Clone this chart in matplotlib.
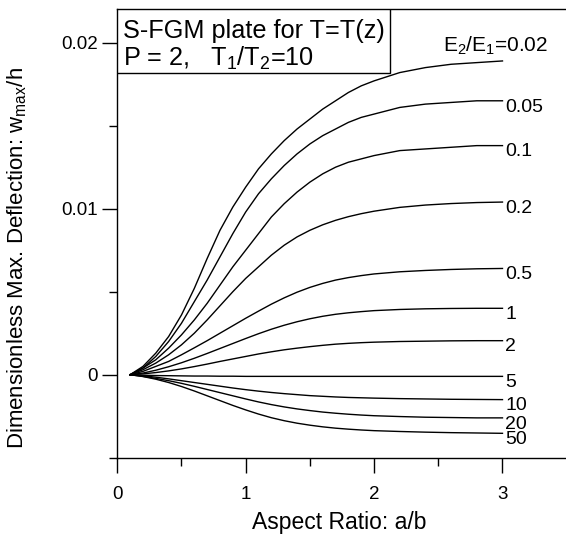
import matplotlib
matplotlib.use("Agg")
import matplotlib.pyplot as plt
from matplotlib.patches import Rectangle

plt.rcParams['font.family'] = ['Liberation Sans', 'DejaVu Sans']
plt.rcParams['mathtext.default'] = 'regular'

# aspect ratio a/b
aspect = [0.1, 0.2, 0.3, 0.4, 0.5, 0.6, 0.7, 0.8, 0.9, 1.0,
          1.1, 1.2, 1.3, 1.4, 1.5, 1.6, 1.7, 1.8, 1.9, 2.0,
          2.2, 2.4, 2.6, 2.8, 3.0]

# E2/E1 ratios and the matching deflection curves (w_max/h)
ratios = ['0.02', '0.05', '0.1', '0.2', '0.5', '1', '2', '5', '10', '20', '50']

w_002 = [0, 0.0005, 0.0013, 0.0023, 0.0036, 0.0052, 0.0070, 0.0087, 0.0101, 0.0113,
         0.0124, 0.0133, 0.0141, 0.0148, 0.0154, 0.0160, 0.0165, 0.0170, 0.0174, 0.0177,
         0.0182, 0.0185, 0.0187, 0.0188, 0.0189]
w_005 = [0, 0.0004, 0.0011, 0.0020, 0.0031, 0.0044, 0.0057, 0.0071, 0.0085, 0.0098,
         0.0109, 0.0118, 0.0126, 0.0133, 0.0139, 0.0144, 0.0148, 0.0152, 0.0155, 0.0157,
         0.0161, 0.0163, 0.0164, 0.0165, 0.0165]
w_01 = [0, 0.0004, 0.0009, 0.0016, 0.0024, 0.0033, 0.0043, 0.0054, 0.0065, 0.0075,
        0.0085, 0.0095, 0.0103, 0.0110, 0.0116, 0.0121, 0.0125, 0.0128, 0.0130, 0.0132,
        0.0135, 0.0136, 0.0137, 0.0138, 0.0138]
w_02 = [0, 0.0003, 0.0007, 0.0012, 0.0018, 0.0025, 0.0033, 0.00415, 0.0050, 0.0058,
        0.0065, 0.0072, 0.0078, 0.0083, 0.0087, 0.00903, 0.0093, 0.00952, 0.0097, 0.00985,
        0.01008, 0.01022, 0.01031, 0.01037, 0.0104]
w_05 = [0, 0.0002, 0.0005, 0.0008, 0.0012, 0.00162, 0.00205, 0.0025, 0.00295, 0.0034,
        0.00383, 0.00425, 0.00463, 0.00497, 0.00526, 0.0055, 0.0057, 0.00585, 0.00597, 0.00607,
        0.0062, 0.00628, 0.00634, 0.00638, 0.0064]
w_1 = [0, 0.0001, 0.00027, 0.00048, 0.00072, 0.00099, 0.00128, 0.00158, 0.00188, 0.00218,
       0.00247, 0.00274, 0.00298, 0.00319, 0.00337, 0.00352, 0.00364, 0.00373, 0.0038, 0.00386,
       0.00393, 0.00397, 0.00399, 0.004, 0.004]
w_2 = [0, 0.00005, 0.00013, 0.00023, 0.00035, 0.00049, 0.00064, 0.0008, 0.00095, 0.0011,
       0.00125, 0.00138, 0.0015, 0.0016, 0.00169, 0.00177, 0.00184, 0.00189, 0.00193, 0.00196,
       0.002, 0.00202, 0.00204, 0.00205, 0.00205]
w_5 = [0, -0.00003, -0.00005, -0.00006, -0.00007, -0.00008, -0.00008, -0.00009, -0.00009, -0.0001,
       -0.0001, -0.0001, -0.0001, -0.0001, -0.0001, -0.0001, -0.0001, -0.0001, -0.0001, -0.0001,
       -0.0001, -0.0001, -0.0001, -0.0001, -0.0001]
w_10 = [0, -0.00006, -0.00015, -0.00025, -0.00036, -0.00047, -0.00058, -0.00069, -0.0008, -0.0009,
        -0.00099, -0.00107, -0.00114, -0.0012, -0.00126, -0.0013, -0.00134, -0.00137, -0.00139, -0.00141,
        -0.00144, -0.00146, -0.00148, -0.00149, -0.0015]
w_20 = [0, -0.0001, -0.00022, -0.00036, -0.00052, -0.0007, -0.00089, -0.00108, -0.00127, -0.00146,
        -0.00164, -0.0018, -0.00194, -0.00206, -0.00216, -0.00225, -0.00232, -0.00238, -0.00243, -0.00247,
        -0.00252, -0.00256, -0.00258, -0.0026, -0.0026]
w_50 = [0, -0.00011, -0.00027, -0.00047, -0.00071, -0.00098, -0.00127, -0.00156, -0.00185, -0.00212,
        -0.00237, -0.00259, -0.00277, -0.00292, -0.00304, -0.00314, -0.00322, -0.00328, -0.00333, -0.00337,
        -0.00342, -0.00346, -0.00349, -0.00351, -0.00353]

curves = [w_002, w_005, w_01, w_02, w_05, w_1, w_2, w_5, w_10, w_20, w_50]

fig = plt.figure(figsize=(5.66, 5.42), dpi=100)
ax = fig.add_axes([0.2072, 0.1555, 0.794, 0.827])

for r, w in zip(ratios, curves):
    ax.plot(aspect, w, color='black', lw=1.0)
    if r == '0.02':
        ax.annotate('E$_2$/E$_1$=0.02', (aspect[-1], w[-1]), xytext=(-5, 11),
                    textcoords='offset points', ha='center', va='center', fontsize=15)
    else:
        ax.annotate(r, (aspect[-1], w[-1]), xytext=(2, -4.5),
                    textcoords='offset points', ha='left', va='center', fontsize=14)

ax.set_xlim(0, 3.5)
ax.set_ylim(-0.005, 0.022)
ax.set_xticks([0, 1, 2, 3])
ax.set_xticks([0.5, 1.5, 2.5], minor=True)
ax.set_yticks([0, 0.01, 0.02])
ax.set_yticklabels(['0', '0.01', '0.02'])
ax.set_yticks([-0.005, 0.005, 0.015], minor=True)
ax.tick_params(which='major', direction='out', length=10.5, width=1.0, labelsize=13.5)
ax.tick_params(which='minor', direction='out', length=5.5, width=1.0)
ax.tick_params(axis='x', which='major', pad=10)
ax.tick_params(axis='y', which='major', pad=3.5)
ax.spines['right'].set_visible(False)
for s in ['left', 'bottom', 'top']:
    ax.spines[s].set_linewidth(1.0)

ax.set_xlabel('Aspect Ratio: a/b', fontsize=16.5)
ax.set_ylabel('Dimensionless Max. Deflection: w$_{max}$/h', fontsize=16)
ax.xaxis.set_label_coords(0.495, -0.118)
ax.yaxis.set_label_coords(-0.196, 0.4455)

# title box in the top left corner
ax.add_patch(Rectangle((0, 0.858), 0.606, 0.142, transform=ax.transAxes,
                       facecolor='white', edgecolor='black', lw=1.0, zorder=3))
ax.text(0.013, 0.952, 'S-FGM plate for T=T(z)', transform=ax.transAxes,
        fontsize=18.2, ha='left', va='center', zorder=4)
ax.text(0.013, 0.89, 'P = 2,   T$_1$/T$_2$=10', transform=ax.transAxes,
        fontsize=18.2, ha='left', va='center', zorder=4)

fig.savefig('out.png', dpi=100)
